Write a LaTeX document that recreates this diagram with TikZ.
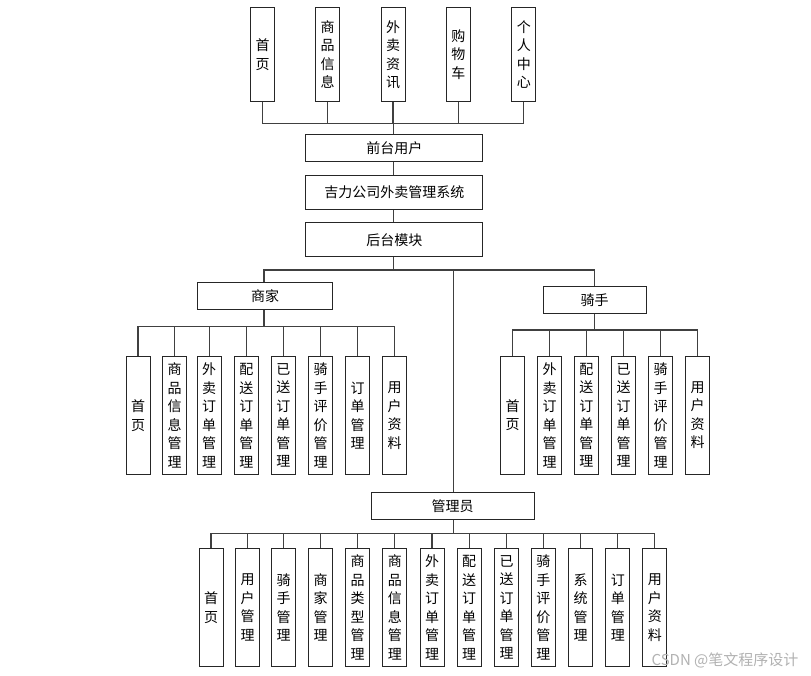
\documentclass[tikz,border=0pt]{standalone}
\usepackage{fontspec}
\setmainfont{Noto Sans CJK SC}
\begin{document}
\begin{tikzpicture}[x=1pt,y=-1pt,
  box/.style={draw=black!85,line width=1pt,fill=white,inner sep=0pt,align=center,
    font=\fontsize{14}{18.5}\selectfont},
  vbox/.style={box,minimum width=24pt,minimum height=#1},
  hbox/.style={box},
  conn/.style={draw=black!75,line width=1.3pt}]
\fill[white] (0,0) rectangle (811,675);
\useasboundingbox (0,0) rectangle (811,675);

% top modules
\node[vbox=94pt] (t1) at (262.7,54.6) {首\\页};
\node[vbox=94pt] (t2) at (327.7,54.6) {商\\品\\信\\息};
\node[vbox=94pt] (t3) at (393,54.6) {外\\卖\\资\\讯};
\node[vbox=94pt] (t4) at (458.3,54.6) {购\\物\\车};
\node[vbox=94pt] (t5) at (523.8,54.6) {个\\人\\中\\心};

\node[hbox,minimum width=176.7pt,minimum height=27pt] (front) at (394.3,148.2) {前台用户};
\node[hbox,minimum width=176.7pt,minimum height=34.3pt] (sys) at (394.3,192.2) {吉力公司外卖管理系统};
\node[hbox,minimum width=176.7pt,minimum height=34pt] (back) at (394.3,239.7) {后台模块};

\node[hbox,minimum width=134.6pt,minimum height=27pt] (merchant) at (265,295.8) {商家};
\node[hbox,minimum width=102.7pt,minimum height=26.6pt] (rider) at (594.7,300) {骑手};
\node[hbox,minimum width=163.3pt,minimum height=27.3pt] (admin) at (452.7,506.3) {管理员};

% merchant children
\node[vbox=117.6pt] (m1) at (138,415.5) {首\\页};
\node[vbox=117.6pt] (m2) at (174.5,415.5) {商\\品\\信\\息\\管\\理};
\node[vbox=117.6pt] (m3) at (209.2,415.5) {外\\卖\\订\\单\\管\\理};
\node[vbox=117.6pt] (m4) at (246.3,415.5) {配\\送\\订\\单\\管\\理};
\node[vbox=117.6pt] (m5) at (283.3,415.5) {已\\送\\订\\单\\管\\理};
\node[vbox=117.6pt] (m6) at (320.7,415.5) {骑\\手\\评\\价\\管\\理};
\node[vbox=117.6pt] (m7) at (357.7,415.5) {订\\单\\管\\理};
\node[vbox=117.6pt] (m8) at (394.7,415.5) {用\\户\\资\\料};

% rider children
\node[vbox=117.6pt] (r1) at (512.5,415.4) {首\\页};
\node[vbox=117.6pt] (r2) at (549.5,415.4) {外\\卖\\订\\单\\管\\理};
\node[vbox=117.6pt] (r3) at (586.3,415.4) {配\\送\\订\\单\\管\\理};
\node[vbox=117.6pt] (r4) at (623.5,415.4) {已\\送\\订\\单\\管\\理};
\node[vbox=117.6pt] (r5) at (660.5,415.4) {骑\\手\\评\\价\\管\\理};
\node[vbox=117.6pt] (r6) at (697.7,415.4) {用\\户\\资\\料};

% admin children
\node[vbox=118.4pt] (a1) at (211,607.5) {首\\页};
\node[vbox=118.4pt] (a2) at (247.5,607.5) {用\\户\\管\\理};
\node[vbox=118.4pt] (a3) at (283.7,607.5) {骑\\手\\管\\理};
\node[vbox=118.4pt] (a4) at (320.7,607.5) {商\\家\\管\\理};
\node[vbox=118.4pt] (a5) at (357.5,607.5) {商\\品\\类\\型\\管\\理};
\node[vbox=118.4pt] (a6) at (394.8,607.5) {商\\品\\信\\息\\管\\理};
\node[vbox=118.4pt] (a7) at (432,607.5) {外\\卖\\订\\单\\管\\理};
\node[vbox=118.4pt] (a8) at (469.2,607.5) {配\\送\\订\\单\\管\\理};
\node[vbox=118.4pt] (a9) at (506.5,607.5) {已\\送\\订\\单\\管\\理};
\node[vbox=118.4pt] (a10) at (543.3,607.5) {骑\\手\\评\\价\\管\\理};
\node[vbox=118.4pt] (a11) at (580.5,607.5) {系\\统\\管\\理};
\node[vbox=118.4pt] (a12) at (617.8,607.5) {订\\单\\管\\理};
\node[vbox=118.4pt] (a13) at (654.8,607.5) {用\\户\\资\\料};

% bus coordinates
\coordinate (fbus) at (393.3,123.3);
\coordinate (bbus) at (393.3,270);
\coordinate (mbus) at (264,326.7);
\coordinate (rbus) at (594.3,330);
\coordinate (abus) at (453.3,533.3);

% connectors
\begin{scope}[conn]
\foreach \i in {1,...,5} {\draw (t\i.south) |- (fbus);}
\draw (fbus) -- (fbus |- front.north);
\draw (front.south -| fbus) -- (sys.north -| fbus);
\draw (sys.south -| fbus) -- (back.north -| fbus);
\draw (back.south -| bbus) -- (bbus);
\draw (merchant.north -| mbus) |- (bbus);
\draw (rider.north -| rbus) |- (bbus);
\draw (admin.north -| abus) |- (bbus);
\draw (merchant.south -| mbus) -- (mbus);
\foreach \i in {1,...,8} {\draw (m\i.north) |- (mbus);}
\draw (rider.south -| rbus) -- (rbus);
\foreach \i in {1,...,6} {\draw (r\i.north) |- (rbus);}
\draw (admin.south -| abus) -- (abus);
\foreach \i in {1,...,13} {\draw (a\i.north) |- (abus);}
\end{scope}

\node[text=black!30,font=\fontsize{15}{17}\selectfont,inner sep=0pt] (wm) at (725,660) {CSDN @笔文程序设计};
\end{tikzpicture}
\end{document}
